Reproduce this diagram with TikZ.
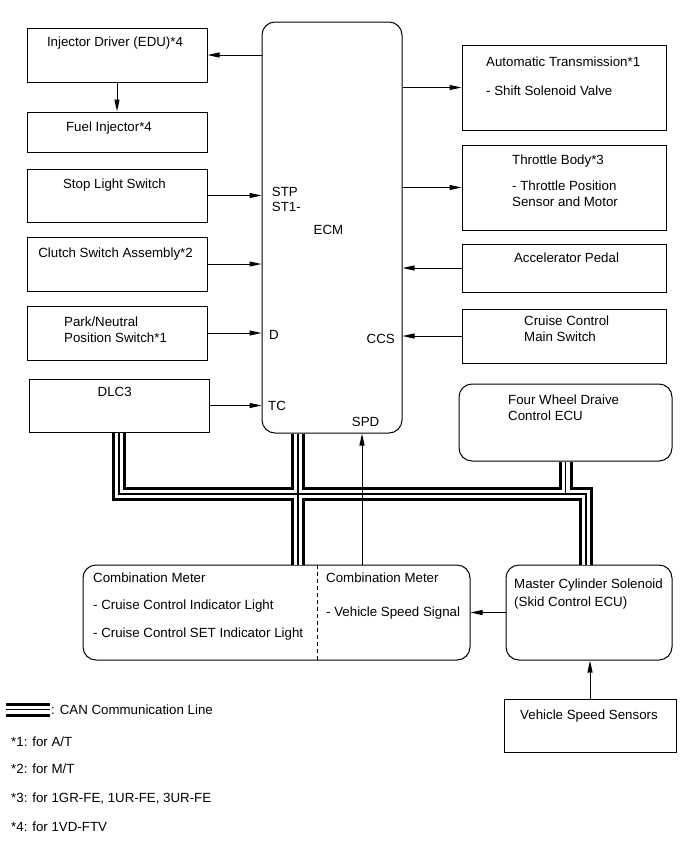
\documentclass[tikz,border=0pt]{standalone}
\usepackage{fontspec}
\setmainfont{Liberation Sans}
\usetikzlibrary{arrows.meta}

\begin{document}
\begin{tikzpicture}[x=1pt,y=-1pt,>={Triangle[length=12pt,width=5pt]},
  every node/.style={font=\fontsize{13.3}{16}\selectfont},
  box/.style={draw,line width=1pt,inner sep=0pt},
  rbox/.style={box,rounded corners=13pt},
  lbl/.style={anchor=base,inner sep=0pt},
  lblw/.style={anchor=base west,inner sep=0pt,align=left},
  sig/.style={->,line width=1pt}]
\useasboundingbox (0,0) rectangle (690,855);

% ECM in the middle
\node[rbox,minimum width=140pt,minimum height=411pt] (ecm) at (332,227.5) {};
\node[lbl] (ecm-t) at (328.5,234) {ECM};
\node[lblw] (stp) at (271.7,196.5) {STP};
\node[lblw] (st1) at (271.7,211.5) {ST1-};
\node[lblw] (d) at (269,339.8) {D};
\node[anchor=base east,inner sep=0pt] (ccs) at (395,343.3) {CCS};
\node[lblw] (tc) at (268,410.5) {TC};
\node[lblw] (spd) at (351.7,426.5) {SPD};

% left column
\node[box,minimum width=180pt,minimum height=54pt] (injdrv) at (117,55) {};
\node[lbl] (injdrv-t) at (115,46.5) {Injector Driver (EDU)*4};
\node[box,minimum width=180pt,minimum height=40pt] (fuelinj) at (117,132) {};
\node[lbl] (fuelinj-t) at (109,131.8) {Fuel Injector*4};
\node[box,minimum width=180pt,minimum height=53pt] (stoplt) at (117,195.5) {};
\node[lbl] (stoplt-t) at (114.5,188.8) {Stop Light Switch};
\node[box,minimum width=180pt,minimum height=54pt] (clutch) at (117,264) {};
\node[lbl] (clutch-t) at (115.6,257.8) {Clutch Switch Assembly*2};
\node[box,minimum width=180pt,minimum height=54pt] (pnsw) at (117,333) {};
\node[lblw] (pnsw-t) at (64,342) {Park/Neutral\\Position Switch*1};
\node[box,minimum width=180pt,minimum height=53pt] (dlc) at (119,405.5) {};
\node[lbl] (dlc-t) at (114.7,396.8) {DLC3};

% right column
\node[box,minimum width=204pt,minimum height=85pt] (atm) at (564,87.5) {};
\node[lblw] (atm-t) at (486,66.8) {Automatic Transmission*1};
\node[lblw] (atm-s) at (486,95.5) {- Shift Solenoid Valve};
\node[box,minimum width=204pt,minimum height=85pt] (thr) at (564,187.5) {};
\node[lblw] (thr-t) at (512,164.8) {Throttle Body*3};
\node[lblw] (thr-s) at (512,206.8) {- Throttle Position\\Sensor and Motor};
\node[box,minimum width=204pt,minimum height=48pt] (accel) at (564,268) {};
\node[lbl] (accel-t) at (566.5,262.8) {Accelerator Pedal};
\node[box,minimum width=204pt,minimum height=54pt] (ccsw) at (564,336) {};
\node[lblw] (ccsw-t) at (524,341.8) {Cruise Control\\Main Switch};
\node[rbox,minimum width=213pt,minimum height=77pt] (fwd) at (565.5,422.5) {};
\node[lblw] (fwd-t) at (508,420.8) {Four Wheel Draive\\Control ECU};

% bottom row
\node[rbox,minimum width=387pt,minimum height=95pt] (combm) at (276.5,612.5) {};
\node[lblw] (combm-t) at (93,582.3) {Combination Meter};
\node[lblw] (combm-a) at (93,609.8) {- Cruise Control Indicator Light};
\node[lblw] (combm-b) at (93,637.8) {- Cruise Control SET Indicator Light};
\node[lblw] (combm-r) at (326,582.3) {Combination Meter};
\node[lblw] (combm-v) at (326,616.5) {- Vehicle Speed Signal};
\draw[line width=1pt,dash pattern=on 4pt off 3pt] ([xshift=40.5pt]combm.north) -- ([xshift=40.5pt]combm.south);
\node[rbox,minimum width=166pt,minimum height=95pt] (mcs) at (589,612.5) {};
\node[lblw] (mcs-t) at (514,606.8) {Master Cylinder Solenoid\\[2pt](Skid Control ECU)};
\node[box,minimum width=172pt,minimum height=53pt] (vss) at (590,725.5) {};
\node[lbl] (vss-t) at (589,719.8) {Vehicle Speed Sensors};

% signal lines
\draw[sig] (ecm.west |- injdrv.east) -- (injdrv.east);
\draw[sig] (injdrv.south) -- (fuelinj.north);
\draw[sig] (stoplt.east) -- (stoplt.east -| ecm.west);
\draw[sig] (clutch.east) -- (clutch.east -| ecm.west);
\draw[sig] (pnsw.east) -- (pnsw.east -| ecm.west);
\draw[sig] (dlc.east) -- (dlc.east -| ecm.west);
\draw[sig] (ecm.east |- atm.west) -- (atm.west);
\draw[sig] (ecm.east |- thr.west) -- (thr.west);
\draw[sig] (accel.west) -- (accel.west -| ecm.east);
\draw[sig] (ccsw.west) -- (ccsw.west -| ecm.east);
\draw[sig] (mcs.west) -- (mcs.west -| combm.east);
\draw[sig] (vss.north) -- (vss.north |- mcs.south);

% CAN lines (black, white, thin black)
\coordinate (busR) at (586,494);
\coordinate (ecmbus) at ([xshift=-34pt]ecm.south);
\foreach \lw/\lc in {14pt/black,8pt/white,1.2pt/black}{
  \draw[line width=\lw,\lc] (dlc.south) |- (busR) -- (busR |- mcs.north);
  \draw[line width=\lw,\lc] (ecmbus) -- (ecmbus |- combm.north);
  \draw[line width=\lw,\lc] (fwd.south) -- (fwd.south |- busR);
  \draw[line width=\lw,\lc] (6,709.5) -- (50,709.5);
}
\coordinate (spdx) at ([xshift=30pt]ecm.south);
\draw[sig] (spdx |- combm.north) -- (spdx);

% notes
\node[lblw] (canleg) at (51,714.3) {: CAN Communication Line};
\node[lblw] (n1) at (11,746.5) {*1: for A/T};
\node[lblw] (n2) at (11,773) {*2: for M/T};
\node[lblw] (n3) at (11,802.5) {*3: for 1GR-FE, 1UR-FE, 3UR-FE};
\node[lblw] (n4) at (11,831.5) {*4: for 1VD-FTV};
\end{tikzpicture}
\end{document}
